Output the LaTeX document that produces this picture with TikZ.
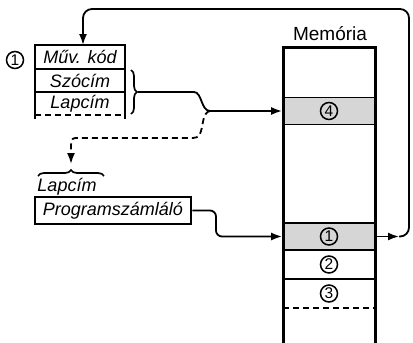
\documentclass[tikz,border=0pt]{standalone}
\usepackage{fontspec}
\setmainfont{Liberation Sans}
\usetikzlibrary{arrows.meta,decorations.pathreplacing,calc}
\begin{document}
\begin{tikzpicture}[x=1pt,y=-1pt,
  conn/.style={line width=1.8pt},
  arr/.style={conn,-{Latex[length=11pt,width=8pt]}},
  lbl/.style={font=\fontsize{18}{20}\selectfont\itshape, inner sep=0pt},
  numc/.style={circle,draw,line width=1.5pt,inner sep=0pt,minimum size=17pt,font=\fontsize{15.5}{15}\selectfont},
  cell/.style={rectangle,draw,line width=1.8pt,fill=black!16,minimum width=92pt,minimum height=27pt,inner sep=0pt},
  brc/.style={decorate,decoration={brace,amplitude=6pt},line width=1.7pt},
  dsh/.style={dash pattern=on 6pt off 4pt}]
\useasboundingbox (0,0) rectangle (413,343);

% memory
\node[font=\fontsize{19}{20}\selectfont, inner sep=0pt] (memlbl) at (330,34) {Memória};
\node[cell] (c4) at (329,111) {};
\node[cell] (c1) at (329,236.5) {};
\draw[line width=1.8pt] (283,279) -- (375,279);
\draw[line width=1.8pt, dsh] (283,308) -- (375,308);
\draw[line width=3pt] (283,343) |- (375,47) -- (375,343);
\node[numc] (n4) at (c4) {4};
\node[numc] (n1) at (c1) {1};
\node[numc] (n2) at (329,264.5) {2};
\node[numc] (n3) at (329,293.5) {3};

% instruction register
\node[numc] (n0) at (15,60) {1};
\node[lbl] (op) at (80,57) {Műv. kód};
\node[lbl] (szo) at (80,80.5) {Szócím};
\node[lbl] (lap) at (80,103.5) {Lapcím};
\draw[line width=1.8pt] (35,69) -- (125,69) (35,92) -- (125,92);
\draw[line width=1.8pt, dsh] (35,115) -- (125,115);
\draw[line width=2.6pt] (35,119) |- (125,45) -- (125,119);
\coordinate (optop) at (83,45);

% brace on the right of the address fields
\draw[brc] (131,70) -- (131,114);
\coordinate (bt) at (137.5,92);
\coordinate (fork) at (210,111);
\draw[arr] (bt) -- (194,92) .. controls (202,92) and (201,111) .. (fork) -- (c4.west);
\coordinate (lb) at (71,164);
\draw[conn, dsh, -{Latex[length=11pt,width=8pt]}] (fork) .. controls (203,112) and (203,125) .. (201,131) .. controls (199,137) .. (193,138) -- (79,138) .. controls (72,138) .. (71,145) -- (lb);

% lower brace and label
\draw[brc] (38,176) -- (104,176);
\node[lbl] (lap2) at (67,187) {Lapcím};

% program counter
\node[lbl, draw, line width=2.6pt, minimum width=156pt, minimum height=27pt] (pc) at (113,210.5) {Programszámláló};
\draw[arr, rounded corners=6pt] (pc.east) -- (216,210.5) -- (216,236.5) -- (c1.west);

% feedback
\coordinate (fb) at (399,236.5);
\draw[arr] (c1.east) -- (fb);
\draw[arr, rounded corners=9pt] (fb) -- (409,236.5) -- (409,9) -- (83,9) -- (optop);
\end{tikzpicture}
\end{document}
